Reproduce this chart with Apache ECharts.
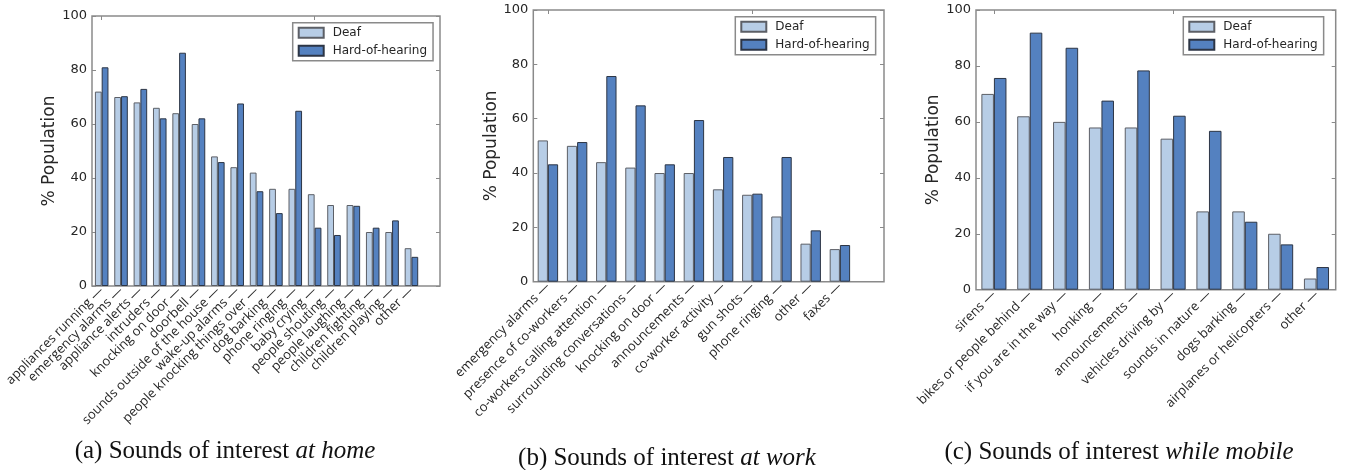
<!DOCTYPE html>
<html>
<head>
<meta charset="utf-8">
<script src="https://cdn.jsdelivr.net/npm/echarts@6/dist/echarts.min.js"></script>
<style>
html,body{margin:0;padding:0;background:#fff;}
#chart{width:1348px;height:470px;}
</style>
</head>
<body>
<div id="chart"></div>
<script>
// ---- data ----
const seriesNames = ['Deaf', 'Hard-of-hearing'];
const yTicks = [0, 20, 40, 60, 80, 100];
const yAxisTitle = '% Population';

const homeCats = ['appliances running', 'emergency alarms', 'appliance alerts', 'intruders', 'knocking on door', 'doorbell', 'sounds outside of the house', 'wake-up alarms', 'people knocking things over', 'dog barking', 'phone ringing', 'baby crying', 'people shouting', 'people laughing', 'children fighting', 'children playing', 'other'];
const homeDeaf = [72, 70, 68, 66, 64, 60, 48, 44, 42, 36, 36, 34, 30, 30, 20, 20, 14];
const homeHoh  = [81, 70.3, 73, 62.1, 86.4, 62.1, 45.9, 67.6, 35.1, 27, 64.9, 21.6, 18.9, 29.7, 21.6, 24.3, 10.8];

const workCats = ['emergency alarms', 'presence of co-workers', 'co-workers calling attention', 'surrounding conversations', 'knocking on door', 'announcements', 'co-worker activity', 'gun shots', 'phone ringing', 'other', 'faxes'];
const workDeaf = [52, 50, 44, 42, 40, 40, 34, 32, 24, 14, 12];
const workHoh  = [43.2, 51.4, 75.7, 64.9, 43.2, 59.5, 45.9, 32.4, 45.9, 18.9, 13.5];

const mobileCats = ['sirens', 'bikes or people behind', 'if you are in the way', 'honking', 'announcements', 'vehicles driving by', 'sounds in nature', 'dogs barking', 'airplanes or helicopters', 'other'];
const mobileDeaf = [70, 62, 60, 58, 58, 54, 28, 28, 20, 4];
const mobileHoh  = [75.7, 91.9, 86.5, 67.6, 78.4, 62.2, 56.8, 24.3, 16.2, 8.1];

const captionLabels = ['(a) Sounds of interest ', '(b) Sounds of interest ', '(c) Sounds of interest '];
const captionItalics = ['at home', 'at work', 'while mobile'];

// ---- layout ----
const panels = [
  {cats: homeCats, deaf: homeDeaf, hoh: homeHoh, l: 92, r: 440, t: 16, b: 286, step: 19.36, lg: [292.7, 22.7], cx: 225, cy: 451, gap: 31},
  {cats: workCats, deaf: workDeaf, hoh: workHoh, l: 533.3, r: 884, t: 10, b: 281.7, step: 29.2, lg: [735.3, 16.7], cx: 667, cy: 458, gap: 31},
  {cats: mobileCats, deaf: mobileDeaf, hoh: mobileHoh, l: 976, r: 1335.7, t: 10, b: 289.7, step: 35.84, lg: [1183.3, 16.7], cx: 1119, cy: 452, gap: 33}
];

const colDeaf = '#b7cde6';
const colHoh = '#5481c0';
const frameCol = '#8a8a8a';
const txtCol = '#262626';
const capSize = 25;

const grid = [], xAxis = [], yAxis = [], series = [], legend = [], title = [];

panels.forEach((p, i) => {
  const h = p.b - p.t;
  grid.push({left: p.l, top: p.t, width: p.r - p.l, height: h, show: true, borderColor: frameCol, borderWidth: 1.5, backgroundColor: '#fff'});
  grid.push({left: p.l, top: p.t, width: p.cats.length * p.step, height: h, show: false});
  const gf = 2 * i, gc = 2 * i + 1;
  // x axes
  xAxis.push({type: 'value', gridIndex: gf, min: 0, max: 1, show: false});
  xAxis.push({type: 'category', gridIndex: gc, data: p.cats, position: 'bottom', boundaryGap: true,
    axisLine: {show: false}, axisTick: {show: false}, splitLine: {show: false},
    axisLabel: {interval: 0, rotate: 45, margin: 3, hideOverlap: false, color: txtCol, fontFamily: 'Open Sans', fontSize: 13,
      formatter: v => v + ' \u2014'}});
  xAxis.push({type: 'category', gridIndex: gc, data: p.cats, position: 'top', boundaryGap: true,
    axisLine: {show: false}, axisLabel: {show: false}, splitLine: {show: false},
    axisTick: {show: true, inside: true, alignWithLabel: true, length: 4, lineStyle: {color: frameCol}}});
  // y axes
  yAxis.push({type: 'value', gridIndex: gf, min: 0, max: 100, interval: 20, position: 'left',
    axisLine: {show: false}, splitLine: {show: false},
    axisTick: {show: true, inside: true, length: 4, lineStyle: {color: frameCol}},
    axisLabel: {color: txtCol, fontFamily: 'DejaVu Sans', fontSize: 13, margin: 5,
      customValues: yTicks},
    name: yAxisTitle, nameLocation: 'middle', nameGap: p.gap, nameRotate: 90,
    nameTextStyle: {color: txtCol, fontFamily: 'DejaVu Sans', fontSize: 17}});
  yAxis.push({type: 'value', gridIndex: gf, min: 0, max: 100, interval: 20, position: 'right',
    axisLine: {show: false}, splitLine: {show: false}, axisLabel: {show: false},
    axisTick: {show: true, inside: true, length: 4, lineStyle: {color: frameCol}}});
  yAxis.push({type: 'value', gridIndex: gc, min: 0, max: 100, show: false});
  const bw = 0.35 * p.step;
  series.push({type: 'bar', name: seriesNames[0], xAxisIndex: 3 * i + 1, yAxisIndex: 3 * i + 2, data: p.deaf,
    barWidth: bw, barGap: '0%', itemStyle: {color: colDeaf, borderColor: '#5c5f66', borderWidth: 1}});
  series.push({type: 'bar', name: seriesNames[1], xAxisIndex: 3 * i + 1, yAxisIndex: 3 * i + 2, data: p.hoh,
    barWidth: bw, barGap: '0%', itemStyle: {color: colHoh, borderColor: '#2c3545', borderWidth: 1}});
  legend.push({data: seriesNames, orient: 'vertical', left: p.lg[0], top: p.lg[1], selectedMode: false,
    itemWidth: 25, itemHeight: 10, itemGap: 6, padding: [4, 6, 4, 5], icon: 'rect',
    borderColor: frameCol, borderWidth: 1.5, borderRadius: 0, backgroundColor: '#fff',
    textStyle: {color: txtCol, fontFamily: 'DejaVu Sans', fontSize: 12, padding: [0, 0, 0, 4]}});
  title.push({left: p.cx, top: p.cy - 12, textAlign: 'center', padding: 0,
    text: '{n|' + captionLabels[i] + '}{it|' + captionItalics[i] + '}',
    textStyle: {fontWeight: 'normal', rich: {
      n: {fontFamily: 'Liberation Serif', fontSize: capSize, fontWeight: 'normal', color: '#111'},
      it: {fontFamily: 'Liberation Serif', fontSize: capSize, fontWeight: 'normal', fontStyle: 'italic', color: '#111'}}}});
});

const chart = echarts.init(document.getElementById('chart'), null, {renderer: 'canvas'});
chart.setOption({animation: false, backgroundColor: '#fff', grid, xAxis, yAxis, series, legend, title});
</script>
</body>
</html>
